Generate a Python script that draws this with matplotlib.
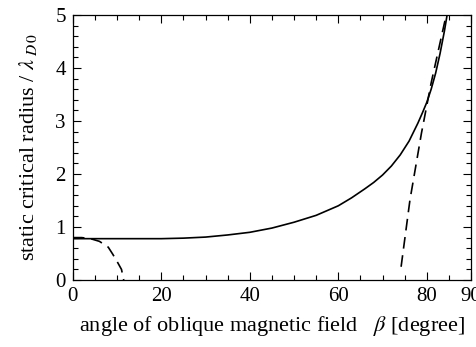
import matplotlib
matplotlib.use("Agg")
import matplotlib.pyplot as plt
from matplotlib.ticker import MultipleLocator, FixedLocator

plt.rcParams['font.family'] = ['Liberation Serif', 'DejaVu Serif']
plt.rcParams['mathtext.fontset'] = 'stix'

# solid curve
beta_solid = [0, 5, 10, 15, 20, 25, 30, 35, 40, 45, 50, 55, 60, 63, 66, 68, 70, 72, 74, 76, 78, 79, 80, 81, 82, 83, 84, 84.6]
r_solid = [0.78, 0.78, 0.78, 0.78, 0.78, 0.79, 0.81, 0.85, 0.90, 0.98, 1.09, 1.22, 1.40, 1.55, 1.72, 1.84, 1.98, 2.15, 2.36, 2.62, 2.96, 3.15, 3.35, 3.60, 3.90, 4.27, 4.70, 5.0]

# dashed curve, small angles
beta_dash_low = [0, 2, 4, 6, 8, 9, 10, 11, 11.5]
r_dash_low = [0.80, 0.80, 0.78, 0.73, 0.62, 0.49, 0.35, 0.20, 0.0]

# dashed curve, large angles
beta_dash_high = [74.2, 76.2, 78.8, 81.0, 84.4]
r_dash_high = [0.25, 1.51, 2.77, 3.72, 5.0]

fig = plt.figure(figsize=(4.76, 3.47), dpi=100)
ax = fig.add_axes([0.153, 0.193, 0.9895 - 0.153, 0.957 - 0.193])

ax.plot(beta_solid, r_solid, color='black', lw=1.2)
ax.plot(beta_dash_low, r_dash_low, color='black', lw=1.2, dashes=(7, 4))
ax.plot(beta_dash_high, r_dash_high, color='black', lw=1.2, dashes=(7, 4))

ax.set_xlim(0, 90)
ax.set_ylim(0, 5)
ax.xaxis.set_major_locator(FixedLocator([0, 20, 40, 60, 80, 90]))
ax.xaxis.set_minor_locator(MultipleLocator(5))
ax.yaxis.set_major_locator(MultipleLocator(1))
ax.yaxis.set_minor_locator(MultipleLocator(0.2))
ax.tick_params(which='both', direction='in', top=True, right=True, labelsize=15, width=0.8)
ax.tick_params(which='major', length=6, pad=5)
ax.tick_params(which='minor', length=3.5)
for s in ax.spines.values():
    s.set_linewidth(0.9)

ax.set_xlabel(r"angle of oblique magnetic field   $\beta$ [degree]", fontsize=16, labelpad=6)
ax.set_ylabel(r"static critical radius / $\lambda_{\ D\,0}$", fontsize=16, labelpad=12)

fig.savefig("out.png", dpi=100)
